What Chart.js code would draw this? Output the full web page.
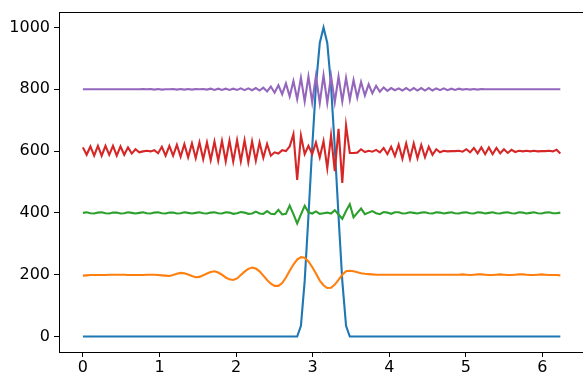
<!DOCTYPE html>
<html>
<head>
<meta charset="utf-8">
<title>Sinais</title>
<script src="https://cdn.jsdelivr.net/npm/chart.js@4.4.0/dist/chart.umd.min.js"></script>
<style>
  html, body { margin: 0; padding: 0; background: #fff; overflow: hidden; }
  canvas { display: block; }
</style>
</head>
<body>
<canvas id="grafico" width="583" height="379"></canvas>
<script>
// Amostras no eixo x (0 a 2π)
const xs = [
  0.000,0.049,0.098,0.147,0.196,0.245,0.295,0.344,0.393,0.442,0.491,0.540,0.589,0.638,0.687,0.736,
  0.785,0.834,0.884,0.933,0.982,1.031,1.080,1.129,1.178,1.227,1.276,1.325,1.374,1.424,1.473,1.522,
  1.571,1.620,1.669,1.718,1.767,1.816,1.865,1.914,1.963,2.013,2.062,2.111,2.160,2.209,2.258,2.307,
  2.356,2.405,2.454,2.503,2.553,2.602,2.651,2.700,2.749,2.798,2.847,2.896,2.945,2.994,3.043,3.093,
  3.142,3.191,3.240,3.289,3.338,3.387,3.436,3.485,3.534,3.583,3.632,3.682,3.731,3.780,3.829,3.878,
  3.927,3.976,4.025,4.074,4.123,4.172,4.221,4.271,4.320,4.369,4.418,4.467,4.516,4.565,4.614,4.663,
  4.712,4.761,4.811,4.860,4.909,4.958,5.007,5.056,5.105,5.154,5.203,5.252,5.301,5.350,5.400,5.449,
  5.498,5.547,5.596,5.645,5.694,5.743,5.792,5.841,5.890,5.940,5.989,6.038,6.087,6.136,6.185,6.234
];

// Pulso (azul)
const pulso = [
  0,0,0,0,0,0,0,0,0,0,0,0,0,0,0,0,
  0,0,0,0,0,0,0,0,0,0,0,0,0,0,0,0,
  0,0,0,0,0,0,0,0,0,0,0,0,0,0,0,0,
  0,0,0,0,0,0,0,0,0,0,35,180,389,611,812,950,
  1000,950,812,611,389,180,35,0,0,0,0,0,0,0,0,0,
  0,0,0,0,0,0,0,0,0,0,0,0,0,0,0,0,
  0,0,0,0,0,0,0,0,0,0,0,0,0,0,0,0,
  0,0,0,0,0,0,0,0,0,0,0,0,0,0,0,0
];

// Laranja (~200)
const serie200 = [
  197,198,199,199,199,199,199,200,200,200,200,200,199,199,199,199,
  199,200,200,200,199,198,197,196,199,203,206,205,201,196,192,193,
  198,204,209,211,207,200,191,185,183,188,199,210,219,223,220,211,
  197,183,171,164,164,173,191,213,233,249,257,255,243,225,204,181,
  166,157,158,168,183,200,211,213,211,208,205,203,202,201,200,200,
  200,200,200,200,200,200,200,200,200,200,200,200,200,200,200,200,
  200,200,200,200,200,201,200,199,200,201,201,200,199,199,200,201,
  200,199,199,200,201,201,200,199,199,200,201,200,199,199,199,198
];

// Verde (~400)
const serie400 = [
  400,402,399,398,401,402,399,398,401,401,398,399,402,400,398,400,
  402,399,398,401,402,399,398,401,401,398,399,402,400,398,400,402,
  399,398,401,402,399,398,402,401,397,399,403,401,397,398,404,398,
  397,406,397,396,410,395,397,424,396,366,395,423,402,398,405,397,
  399,401,398,409,395,381,406,428,386,400,414,396,401,406,399,396,
  403,401,397,402,402,398,399,402,400,398,401,402,399,398,402,401,
  398,400,402,399,398,401,402,399,398,402,401,398,400,402,399,398,
  401,402,399,398,402,401,398,400,402,399,398,401,402,399,399,401
];

// Vermelho (~600)
const serie600 = [
  612,588,615,585,617,585,617,588,617,585,615,588,612,592,606,596,
  599,601,599,603,593,614,585,617,585,620,582,622,580,625,577,628,
  574,628,571,631,569,633,567,634,566,635,567,635,564,631,569,628,
  578,623,585,596,592,603,600,615,655,507,650,590,617,590,628,580,
  632,545,650,535,672,497,683,594,594,595,606,597,601,598,604,596,
  610,590,614,584,621,575,625,574,625,577,620,580,614,588,606,596,
  601,599,600,600,601,598,606,596,610,593,612,590,612,590,610,593,
  606,594,604,597,601,599,601,599,601,599,600,600,601,599,604,592
];

// Roxo (~800)
const serie800 = [
  800,800,800,800,800,800,800,800,800,800,800,800,800,800,800,800,
  801,800,801,799,801,799,800,800,801,799,801,799,801,799,801,800,
  801,799,802,798,802,798,802,798,802,798,803,797,803,797,804,796,
  805,793,809,789,813,784,819,777,827,768,837,761,841,758,843,756,
  845,756,843,758,841,761,837,766,830,773,824,780,816,787,811,792,
  806,795,804,797,803,796,804,796,804,796,804,796,804,796,803,797,
  803,797,802,798,802,799,801,799,801,799,801,800,800,800,800,800,
  800,800,800,800,800,800,800,800,800,800,800,800,800,800,800,800
];

const xTicks = [0, 1, 2, 3, 4, 5, 6];
const yTicks = [0, 200, 400, 600, 800, 1000];

const series = [pulso, serie200, serie400, serie600, serie800];
const cores = ['#1f77b4', '#ff7f0e', '#2ca02c', '#d62728', '#9467bd'];

const fonte = { family: 'DejaVu Sans', size: 16, lineHeight: 1 };

// moldura superior (como o matplotlib)
const bordaTopo = {
  id: 'bordaTopo',
  afterDraw(chart) {
    const { ctx, chartArea } = chart;
    ctx.save();
    ctx.strokeStyle = '#000';
    ctx.lineWidth = 1;
    ctx.beginPath();
    ctx.moveTo(chartArea.left, Math.round(chartArea.top) + 0.5);
    ctx.lineTo(chartArea.right, Math.round(chartArea.top) + 0.5);
    ctx.stroke();
    ctx.restore();
  }
};

new Chart(document.getElementById('grafico'), {
  type: 'line',
  data: {
    datasets: series.map((ys, k) => ({
      data: ys.map((y, i) => ({ x: xs[i], y })),
      borderColor: cores[k],
      backgroundColor: cores[k],
      borderWidth: 2.1,
      pointRadius: 0,
      fill: false,
      tension: 0,
      order: series.length - k
    }))
  },
  options: {
    responsive: false,
    animation: false,
    devicePixelRatio: 1,
    layout: { padding: { top: 10, right: 0, left: 0, bottom: 0 } },
    plugins: {
      legend: { display: false },
      tooltip: { enabled: false }
    },
    scales: {
      x: {
        type: 'linear',
        min: -0.312,
        max: 6.53,
        afterBuildTicks: s => { s.ticks = xTicks.map(v => ({ value: v })); },
        afterFit: s => { s.height = 27; },
        grid: { drawOnChartArea: false, drawTicks: true, tickLength: 5, color: '#000' },
        border: { display: true, color: '#000', width: 1 },
        ticks: { color: '#000', font: fonte, padding: 3, autoSkip: false, maxRotation: 0, callback: v => String(v) }
      },
      y: {
        type: 'linear',
        min: -50,
        max: 1050,
        afterBuildTicks: s => { s.ticks = yTicks.map(v => ({ value: v })); },
        afterFit: s => { s.width = 59; },
        grid: { drawOnChartArea: false, drawTicks: true, tickLength: 5, color: '#000' },
        border: { display: true, color: '#000', width: 1 },
        ticks: { color: '#000', font: fonte, padding: 4, autoSkip: false, callback: v => String(v) }
      }
    }
  },
  plugins: [bordaTopo]
});
</script>
</body>
</html>
